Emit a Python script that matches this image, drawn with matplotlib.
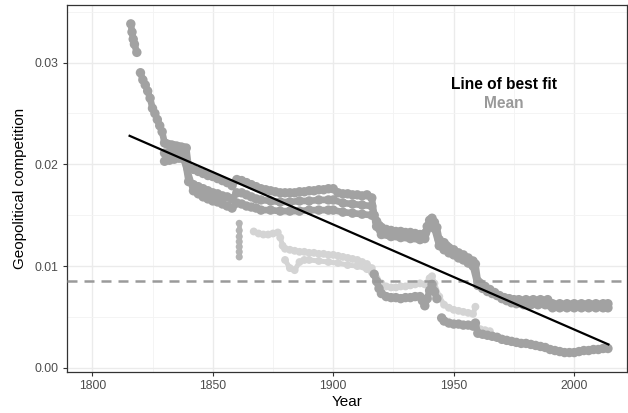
import numpy as np
import matplotlib
matplotlib.use("Agg")
import matplotlib.pyplot as plt
from matplotlib.ticker import MultipleLocator

plt.rcParams['font.family'] = ['Liberation Sans', 'DejaVu Sans']

gap = np.nan  # break in the record

# --- data ---
# upper band, top row (runs the whole period)
top_years = [1816, 1816.5, 1817, 1817.5, 1818.5, gap, 1820, 1821, 1822, 1823, 1824, 1825, 1826, 1827, 1828, 1829,
             1830, 1831, 1832, 1833, 1834, 1835, 1836, 1837, 1838, 1839,
             1840, 1842, 1844, 1846, 1848, 1850, 1852, 1854, 1856, 1858,
             1860, 1862, 1864, 1866, 1868, 1870, 1872, 1874, 1876, 1878, 1880, 1882, 1884, 1886, 1888,
             1890, 1892, 1894, 1896, 1898, 1900, 1902, 1904, 1906, 1908, 1910, 1912, 1914, 1916,
             1917, 1918, 1919, 1920, 1922, 1924, 1926, 1928, 1930, 1932, 1934, 1936, 1937, 1938, 1939,
             1940, 1941, 1942, 1943, 1944, 1945, 1946, 1947, 1948, 1950, 1952, 1954, 1956, 1958, 1959,
             1960, 1961, 1963, 1965, 1967, 1969, 1971, 1973, 1975, 1977, 1980, 1983, 1986, 1989,
             1991, 1994, 1997, 2000, 2003, 2006, 2009, 2012, 2014]
top_vals = [0.0338, 0.0330, 0.0323, 0.0318, 0.0310, gap, 0.0290, 0.0283, 0.0278, 0.0272, 0.0265, 0.0255, 0.0250, 0.0244, 0.0238, 0.0232,
            0.0221, 0.0220, 0.0219, 0.0219, 0.0218, 0.0218, 0.0217, 0.0217, 0.0216, 0.0216,
            0.0197, 0.0195, 0.0193, 0.0191, 0.0189, 0.0188, 0.0186, 0.0184, 0.0182, 0.0179,
            0.0185, 0.0184, 0.0182, 0.0180, 0.0178, 0.0176, 0.0175, 0.0174, 0.0173, 0.0172, 0.0172, 0.0172, 0.0172, 0.0173, 0.0173,
            0.0174, 0.0174, 0.0175, 0.0175, 0.0176, 0.0176, 0.0172, 0.0171, 0.0171, 0.0170, 0.0170, 0.0169, 0.0170, 0.0167,
            0.0150, 0.0144, 0.0140, 0.0138, 0.0136, 0.0135, 0.0134, 0.0134, 0.0133, 0.0133, 0.0132, 0.0131, 0.0129, 0.0132, 0.0139,
            0.0145, 0.0147, 0.0143, 0.0138, 0.0126, 0.0122, 0.0123, 0.0120, 0.0118, 0.0116, 0.0113, 0.0111, 0.0108, 0.0105, 0.0102,
            0.0085, 0.0083, 0.0080, 0.0077, 0.0074, 0.0071, 0.0069, 0.0068, 0.0067, 0.0067, 0.0067, 0.0067, 0.0067, 0.0067,
            0.0063, 0.0063, 0.0063, 0.0063, 0.0063, 0.0063, 0.0063, 0.0063, 0.0063]

# upper band, middle row
mid_years = [1830, 1832, 1834, 1836, 1838,
             1840, 1842, 1844, 1846, 1848, 1850, 1852, 1854, 1856, 1858,
             1860, 1862, 1864, 1866, 1868, 1870, 1874, 1878, 1882, 1886, 1890, 1894, 1898,
             1900, 1904, 1908, 1912, 1916,
             1918, 1920, 1924, 1928, 1932, 1936, 1938, 1940, 1942, 1944, 1946, 1948, 1950, 1952, 1954, 1956, 1958,
             1960, 1962, 1964, 1966, 1968, 1970, 1972, 1974, 1976, 1979, 1982, 1985, 1988,
             1991, 1994, 1997, 2000, 2003, 2006, 2009, 2012, 2014]
mid_vals = [0.0211, 0.0211, 0.0211, 0.0212, 0.0211,
            0.0183, 0.0180, 0.0178, 0.0176, 0.0174, 0.0172, 0.0171, 0.0169, 0.0168, 0.0166,
            0.0172, 0.0172, 0.0170, 0.0168, 0.0166, 0.0165, 0.0164, 0.0163, 0.0163, 0.0164, 0.0164, 0.0165, 0.0165,
            0.0165, 0.0162, 0.0161, 0.0160, 0.0159,
            0.0139, 0.0131, 0.0129, 0.0128, 0.0127, 0.0126, 0.0127, 0.0140, 0.0137, 0.0120, 0.0116, 0.0113, 0.0111, 0.0108, 0.0106, 0.0103, 0.0100,
            0.0081, 0.0078, 0.0075, 0.0073, 0.0071, 0.0068, 0.0066, 0.0064, 0.0063, 0.0062, 0.0062, 0.0062, 0.0062,
            0.0059, 0.0059, 0.0059, 0.0059, 0.0059, 0.0059, 0.0059, 0.0059, 0.0059]

# upper band, bottom row (splits off before WWI)
low_years = [1830, 1832, 1834, 1836, 1838,
             1842, 1844, 1846, 1848, 1850, 1852, 1854, 1856, 1858,
             1860, 1862, 1864, 1866, 1868, 1870, 1874, 1878, 1882, 1886, 1890, 1894, 1898,
             1900, 1904, 1908, 1912, 1916]
low_vals = [0.0203, 0.0204, 0.0205, 0.0206, 0.0205,
            0.0174, 0.0171, 0.0168, 0.0166, 0.0164, 0.0163, 0.0161, 0.0159, 0.0157,
            0.0162, 0.0161, 0.0159, 0.0158, 0.0157, 0.0155, 0.0155, 0.0154, 0.0154, 0.0154, 0.0155, 0.0155, 0.0155,
            0.0155, 0.0153, 0.0152, 0.0151, 0.0150]

# lower dark band after 1917
bottom_years = [1917, 1918, 1919, 1920, 1922, 1924, 1926, 1928, 1930, 1932, 1934, 1936, 1937, 1938, 1939,
                1940, 1941, 1942, 1943, gap, 1945, 1946, 1948, 1950, 1952, 1954, 1956, 1958, 1959,
                1960, 1962, 1964, 1966, 1968, 1970, 1972, 1974, 1976, 1978, 1980, 1982, 1984, 1986, 1988,
                1990, 1992, 1994, 1996, 1998, 2000, 2002, 2004, 2006, 2008, 2010, 2012, 2014]
bottom_vals = [0.0092, 0.0085, 0.0078, 0.0073, 0.0070, 0.0069, 0.0069, 0.0068, 0.0069, 0.0069, 0.0070, 0.0070, 0.0066, 0.0061, 0.0068,
               0.0076, 0.0082, 0.0075, 0.0068, gap, 0.0049, 0.0046, 0.0044, 0.0043, 0.0043, 0.0042, 0.0042, 0.0041, 0.0044,
               0.0034, 0.0033, 0.0032, 0.0031, 0.0030, 0.0028, 0.0027, 0.0026, 0.0025, 0.0024, 0.0024, 0.0023, 0.0022, 0.0021, 0.0020,
               0.0018, 0.0017, 0.0016, 0.0015, 0.0015, 0.0015, 0.0016, 0.0017, 0.0017, 0.0018, 0.0018, 0.0019, 0.0019]

# faint bands
faint_years = [1867, 1869, 1871, 1873, 1875, 1877, 1878, 1879, 1880, 1882, 1884, 1886, 1888, 1890, 1892, 1894, 1896, 1898,
               1900, 1902, 1904, 1906, 1908, 1910, 1912, 1914, 1916, 1918, 1920, 1922, 1924, 1926, 1928, 1930, 1932, 1934, 1936, 1938,
               1940, 1941, 1942, 1944, 1946, 1948, 1950, 1952, 1954, 1956, 1958, 1959, gap, 1961, 1963, 1965]
faint_vals = [0.0134, 0.0132, 0.0131, 0.0131, 0.0132, 0.0133, 0.0128, 0.0120, 0.0117, 0.0116, 0.0115, 0.0114, 0.0114, 0.0113, 0.0113, 0.0112, 0.0112, 0.0111,
              0.0111, 0.0110, 0.0109, 0.0108, 0.0107, 0.0106, 0.0104, 0.0102, 0.0098, 0.0088, 0.0083, 0.0080, 0.0079, 0.0079, 0.0080, 0.0080, 0.0081, 0.0082, 0.0083, 0.0082,
              0.0088, 0.0090, 0.0083, 0.0070, 0.0062, 0.0059, 0.0057, 0.0056, 0.0055, 0.0054, 0.0053, 0.0060, gap, 0.0038, 0.0037, 0.0036]
faint2_years = [1880, 1882, 1884, 1886, 1888, 1890, 1894, 1898, 1902, 1906, 1910, 1914, 1916]
faint2_vals = [0.0106, 0.0098, 0.0096, 0.0104, 0.0106, 0.0106, 0.0105, 0.0104, 0.0103, 0.0101, 0.0100, 0.0097, 0.0094]

# short vertical cluster around 1861
cluster_years = [1861, 1861, 1861, 1861, 1861, 1861, 1861]
cluster_vals = [0.0142, 0.0135, 0.0129, 0.0124, 0.0119, 0.0114, 0.0109]

mean_val = 0.00855
fit_years = [1815.5, 2014.2]
fit_vals = [0.0228, 0.0023]

# --- plot ---
fig = plt.figure(figsize=(6.28, 4.13), dpi=100)
ax = fig.add_axes([0.107, 0.099, 0.891, 0.890])

dark = '#a2a2a2'
light = '#d4d4d4'
mid_grey = '#b4b4b4'

def draw_points(yrs, vals, col, size, width, z):
    # dense daily points: draw the points plus a band joining them
    ax.plot(yrs, vals, color=col, lw=width, solid_capstyle='round', solid_joinstyle='round', zorder=z)
    ax.scatter(yrs, vals, s=size, color=col, edgecolors='none', zorder=z)

draw_points(faint_years, faint_vals, light, 32, 3.6, 2)
draw_points(faint2_years, faint2_vals, light, 32, 3.6, 2)
draw_points(cluster_years, cluster_vals, mid_grey, 26, 3.4, 2)
for yrs, vals in [(low_years, low_vals), (mid_years, mid_vals), (top_years, top_vals), (bottom_years, bottom_vals)]:
    draw_points(yrs, vals, dark, 46, 4.8, 3)

ax.axhline(mean_val, color='#9a9a9a', lw=1.8, dashes=(4, 2.8), zorder=4)
ax.plot(fit_years, fit_vals, color='black', lw=1.6, zorder=5)

ax.text(1970.8, 0.0278, 'Line of best fit', ha='center', va='center', fontsize=11.2, fontweight='bold', color='black')
ax.text(1970.8, 0.0260, 'Mean', ha='center', va='center', fontsize=11.2, fontweight='bold', color='#9a9a9a')

ax.set_xlim(1789.6, 2021.8)
ax.set_ylim(-0.00042, 0.0357)
ax.set_xticks([1800, 1850, 1900, 1950, 2000])
ax.set_yticks([0.00, 0.01, 0.02, 0.03])
ax.set_yticklabels(['0.00', '0.01', '0.02', '0.03'])
ax.xaxis.set_minor_locator(MultipleLocator(25))
ax.yaxis.set_minor_locator(MultipleLocator(0.005))
ax.grid(which='major', color='#ebebeb', lw=1.0, zorder=0)
ax.grid(which='minor', color='#f3f3f3', lw=0.6, zorder=0)
ax.set_axisbelow(True)
ax.tick_params(which='major', length=3, color='#333333', labelsize=8.8, labelcolor='#4d4d4d', pad=3)
ax.tick_params(which='minor', length=0)
for s in ax.spines.values():
    s.set_color('#333333')
    s.set_linewidth(0.9)

ax.set_xlabel('Year', fontsize=11, labelpad=2)
ax.set_ylabel('Geopolitical competition', fontsize=11, labelpad=6)

fig.savefig('out.png', dpi=100)
